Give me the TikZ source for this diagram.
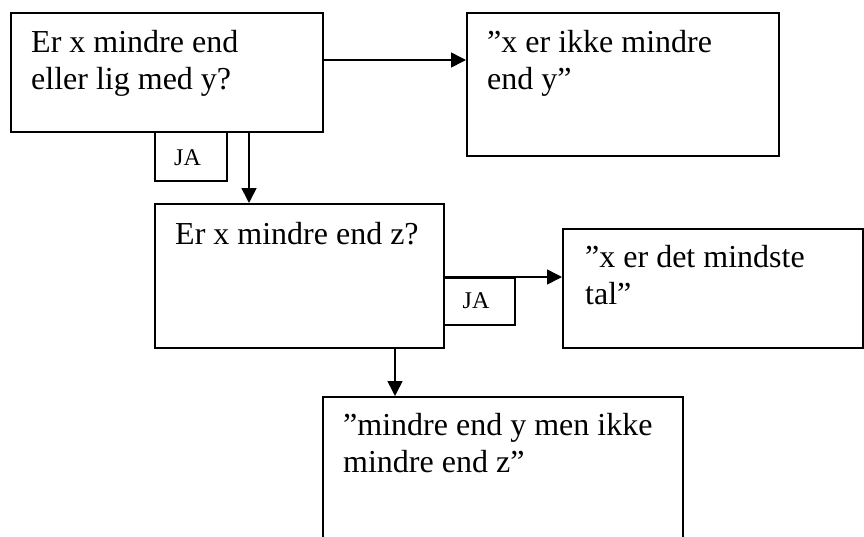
\documentclass[tikz,border=0pt]{standalone}
\usepackage{fontspec}
\setmainfont{Liberation Serif}
\usetikzlibrary{arrows.meta,calc}
\begin{document}
\begin{tikzpicture}[x=1pt,y=-1pt,
  box/.style={draw, line width=1.6pt, rectangle, inner sep=0pt, anchor=north west},
  txt/.style={anchor=base west, inner sep=0pt, font=\fontsize{32}{37}\selectfont},
  jatxt/.style={anchor=base, inner sep=0pt, font=\fontsize{24}{28}\selectfont},
  link/.style={line width=1.6pt, -{Triangle[length=15pt,width=15pt]}}]
  \useasboundingbox (0,0) rectangle (864,536);
  \clip (0,0) rectangle (864,536);

  % decision and result boxes
  \node[box, minimum width=312pt, minimum height=119pt] (q1) at (10,12) {};
  \node[box, minimum width=312pt, minimum height=143pt] (r1) at (466,12) {};
  \node[box, minimum width=289pt, minimum height=144pt] (q2) at (154,203) {};
  \node[box, minimum width=300pt, minimum height=119pt] (r2) at (562,228) {};
  \node[box, minimum width=360pt, minimum height=160pt] (r3) at (322,396) {};

  % "JA" tags
  \node[box, minimum width=72pt, minimum height=49pt] (ja1) at (154,131) {};
  \node[box, minimum width=71pt, minimum height=47pt] (ja2) at (443,277) {};
  \node[jatxt] (ja1t) at (187.5,165) {JA};
  \node[jatxt] (ja2t) at (476,308) {JA};

  % box texts, one node per line (baselines 37pt apart)
  \node[txt] (q1a) at ($(q1.north west)+(21,40)$) {Er x mindre end};
  \node[txt] (q1b) at ($(q1.north west)+(21,77)$) {eller lig med y?};
  \node[txt] (r1a) at ($(r1.north west)+(21,40)$) {”x er ikke mindre};
  \node[txt] (r1b) at ($(r1.north west)+(21,77)$) {end y”};
  \node[txt] (q2a) at ($(q2.north west)+(21,41)$) {Er x mindre end z?};
  \node[txt] (r2a) at ($(r2.north west)+(23,39)$) {”x er det mindste};
  \node[txt] (r2b) at ($(r2.north west)+(23,76)$) {tal”};
  \node[txt] (r3a) at ($(r3.north west)+(21,39)$) {”mindre end y men ikke};
  \node[txt] (r3b) at ($(r3.north west)+(21,76)$) {mindre end z”};

  % connectors
  \draw[link] (q1.east |- 0,60) -- (r1.west |- 0,60);
  \draw[link] (249,0 |- q1.south) -- (249,0 |- q2.north);
  \draw[link] (q2.east |- 0,277) -- (r2.west |- 0,277);
  \draw[link] (395,0 |- q2.south) -- (395,0 |- r3.north);
\end{tikzpicture}
\end{document}
